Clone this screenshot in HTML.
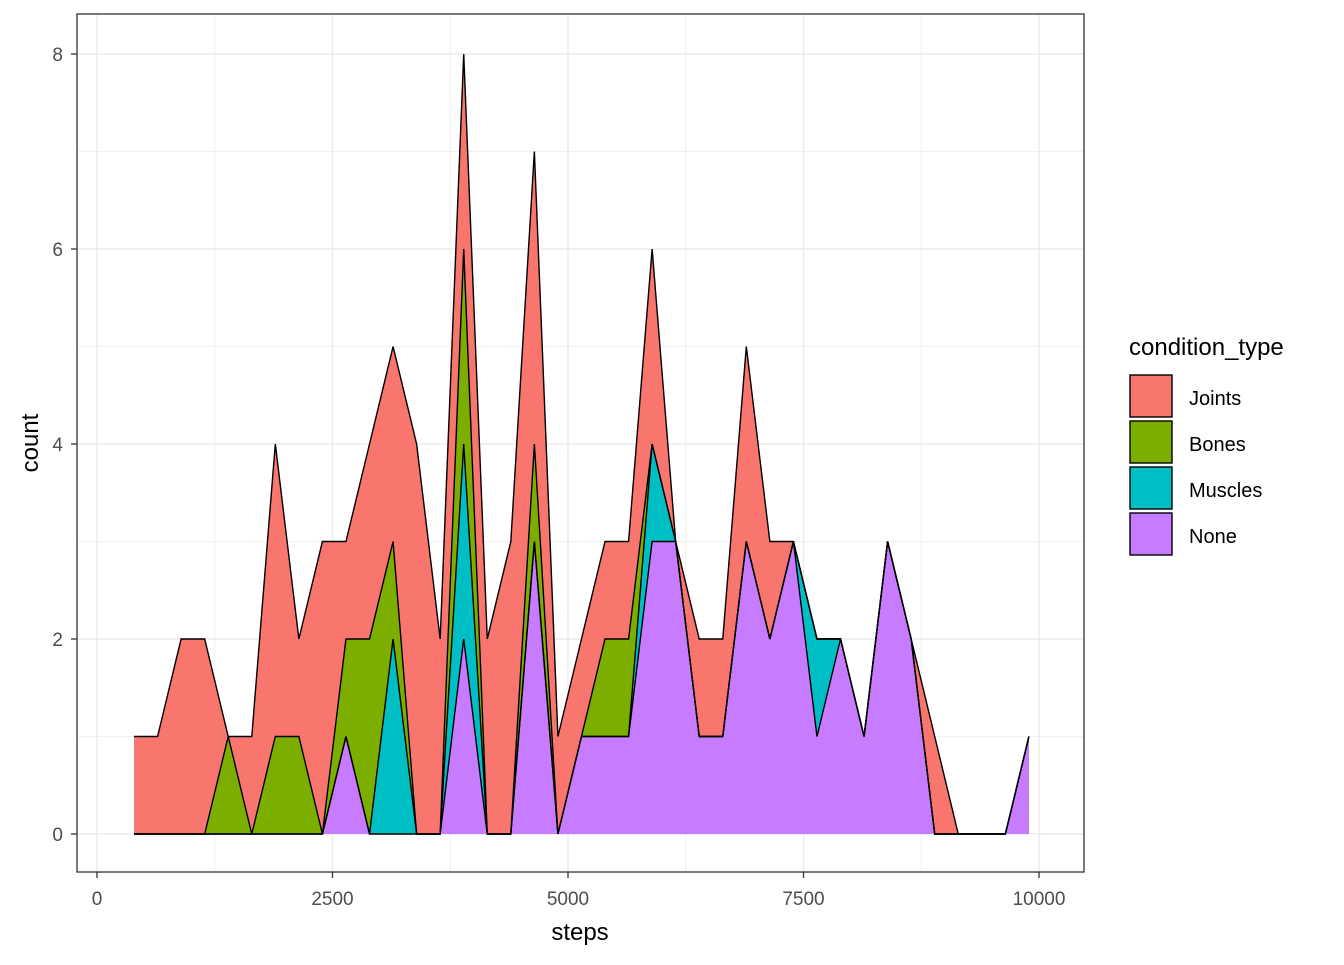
<!DOCTYPE html>
<html><head><meta charset="utf-8"><style>
body{margin:0;background:#fff;}
text{font-family:"Liberation Sans",Arial,sans-serif;}
</style></head><body>
<svg width="1344" height="960">
<g id="grid"></g>
<g id="areas"></g>
<rect x="77" y="14" width="1007" height="858" fill="none" stroke="#333" stroke-width="1.3"/>
<g id="axes"></g>
<text x="580" y="940" font-size="24" text-anchor="middle" fill="#000">steps</text>
<text transform="translate(38,443) rotate(-90)" font-size="24" text-anchor="middle" fill="#000">count</text>
<g>
<text x="1129" y="355" font-size="24">condition_type</text>
<g id="legend"></g>
</g>
</svg>
<script>
const binStart = 393, binWidth = 250;
const seriesNames = ["Joints","Bones","Muscles","None"];
const colors = ["#F8766D","#7CAE00","#00BFC4","#C77CFF"];
const joints  = [1,1,2,2,0,1,3,1,3,1,2,2,4,2,2,2,3,3,1,1,1,1,2,0,1,1,2,1,0,0,0,0,0,0,1,0,0,0,0];
const bones   = [0,0,0,0,1,0,1,1,0,1,2,1,0,0,2,0,0,1,0,0,1,1,0,0,0,0,0,0,0,0,0,0,0,0,0,0,0,0,0];
const muscles = [0,0,0,0,0,0,0,0,0,0,0,2,0,0,2,0,0,0,0,0,0,0,1,0,0,0,0,0,0,1,0,0,0,0,0,0,0,0,0];
const none    = [0,0,0,0,0,0,0,0,0,1,0,0,0,0,2,0,0,3,0,1,1,1,3,3,1,1,3,2,3,1,2,1,3,2,0,0,0,0,1];
const xTicks = [0,2500,5000,7500,10000];
const yTicks = [0,2,4,6,8];
const X = v => 97 + v*0.0942;
const Y = v => 834 - v*97.5;
const NS = "http://www.w3.org/2000/svg";
function mk(tag, attrs, parent){const e=document.createElementNS(NS,tag);for(const k in attrs)e.setAttribute(k,attrs[k]);parent.appendChild(e);return e;}
const grid=document.getElementById('grid'), axes=document.getElementById('axes');
xTicks.forEach((t,i)=>{
  const l=mk('line',{x1:X(t),x2:X(t),y1:14,y2:872,stroke:'#ebebeb','stroke-width':1.4},grid);
  
  
  if(i<xTicks.length-1){const m=mk('line',{x1:X(t+1250),x2:X(t+1250),y1:14,y2:872,stroke:'#ebebeb','stroke-width':0.7},grid);
  
  }
  const tk=mk('line',{x1:X(t),x2:X(t),y1:872,y2:878,stroke:'#333','stroke-width':1.3},axes);
  
  
  const tx=mk('text',{x:X(t),y:905,'font-size':19,'text-anchor':'middle',fill:'#4d4d4d'},axes);
  tx.textContent=t;
  
  
});
yTicks.forEach((t,i)=>{
  const l=mk('line',{x1:77,x2:1084,y1:Y(t),y2:Y(t),stroke:'#ebebeb','stroke-width':1.4},grid);
  
  
  if(i<yTicks.length-1){const m=mk('line',{x1:77,x2:1084,y1:Y(t+1),y2:Y(t+1),stroke:'#ebebeb','stroke-width':0.7},grid);
  
  }
  const tk=mk('line',{x1:71,x2:77,y1:Y(t),y2:Y(t),stroke:'#333','stroke-width':1.3},axes);
  
  
  const tx=mk('text',{x:63,y:Y(t)+7,'font-size':19,'text-anchor':'end',fill:'#4d4d4d'},axes);
  tx.textContent=t;
  
  
});
// cumulative stacks: order bottom None, Muscles, Bones, Joints
const series=[joints,bones,muscles,none];
const n=none.length;
const cums=[];
for(let s=0;s<4;s++){cums.push(new Array(n).fill(0));}
for(let i=0;i<n;i++){let acc=0;for(let s=3;s>=0;s--){acc+=series[s][i];cums[s][i]=acc;}}
const areas=document.getElementById('areas');
for(let s=0;s<4;s++){
  const pts=[];
  for(let i=0;i<n;i++)pts.push(X(binStart+i*binWidth)+','+Y(cums[s][i]));
  const poly=pts.concat([X(binStart+(n-1)*binWidth)+','+Y(0),X(binStart)+','+Y(0)]).join(' ');
  const p=mk('polygon',{points:poly,fill:colors[s],stroke:'none'},areas);
  
  
}
for(let s=0;s<4;s++){
  const pts=[];
  for(let i=0;i<n;i++)pts.push(X(binStart+i*binWidth)+','+Y(cums[s][i]));
  const l=mk('polyline',{points:pts.join(' '),fill:'none',stroke:'#000','stroke-width':1.4,'stroke-linejoin':'miter'},areas);
  
  
}
const leg=document.getElementById('legend');
seriesNames.forEach((nm,i)=>{
  const y=375+i*46;
  const r=mk('rect',{x:1130,y:y,width:42,height:42,fill:colors[i],stroke:'#000','stroke-width':1.4},leg);
  
  
  const t=mk('text',{x:1189,y:y+30,'font-size':20,fill:'#000'},leg);
  t.textContent=nm;
  
  
});
</script>
</body></html>
